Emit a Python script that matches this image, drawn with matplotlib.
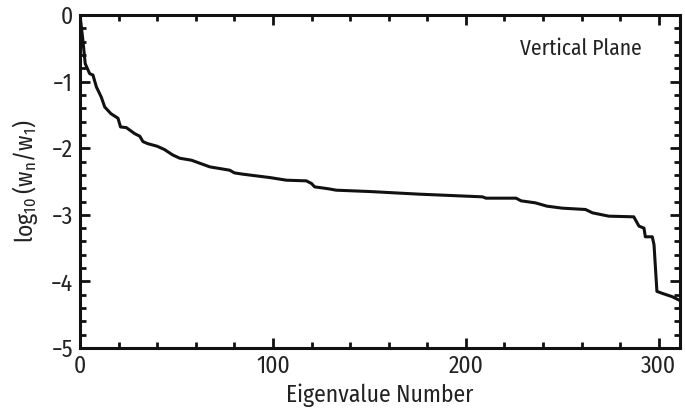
import matplotlib
matplotlib.use("Agg")
import matplotlib.pyplot as plt
from matplotlib.ticker import MultipleLocator

# Eigenvalue spectrum
eig_num = [0, 1.5, 2.7, 5, 6.7, 8.5, 11, 12.8, 16, 19.7, 21, 24, 28.3, 31, 32.6, 35,
           40, 43.8, 48, 51.7, 57.8, 67.3, 77.6, 80, 84.5, 98.3, 107, 117.3, 120,
           121.6, 129, 132.8, 150, 176, 208.6, 210.4, 226, 228.6, 236, 242, 250,
           262, 265.6, 274, 287, 289.7, 292.3, 293, 296.6, 297.5, 299, 301.8, 307,
           310.4]
log_ratio = [0, -0.38, -0.73, -0.88, -0.9, -1.08, -1.23, -1.38, -1.48, -1.55, -1.68,
             -1.69, -1.78, -1.82, -1.9, -1.93, -1.97, -2.02, -2.1, -2.15, -2.18, -2.28,
             -2.33, -2.37, -2.39, -2.44, -2.48, -2.49, -2.53, -2.58, -2.61, -2.63,
             -2.65, -2.69, -2.73, -2.75, -2.75, -2.79, -2.82, -2.87, -2.9, -2.92,
             -2.97, -3.02, -3.03, -3.17, -3.2, -3.33, -3.33, -3.45, -4.15, -4.18,
             -4.23, -4.28]
y_ticks = [0, -1, -2, -3, -4, -5]
y_ticklabels = ["0", "\u22121", "\u22122", "\u22123", "\u22124", "\u22125"]

plt.rcParams["font.family"] = ["Fira Sans Condensed", "DejaVu Sans"]

fig = plt.figure(figsize=(6.85, 4.19), dpi=100)
ax = fig.add_axes([0.1168, 0.1695, 0.876, 0.7945])

ax.plot(eig_num, log_ratio, color="#111111", lw=2.2)

ax.set_xlim(0, 311)
ax.set_ylim(-5, 0)
ax.xaxis.set_major_locator(MultipleLocator(100))
ax.xaxis.set_minor_locator(MultipleLocator(20))
ax.set_yticks(y_ticks)
ax.set_yticklabels(y_ticklabels)
ax.yaxis.set_minor_locator(MultipleLocator(0.2))

ax.tick_params(which="both", direction="in", top=True, right=True,
               labelsize=17, color="#111111", labelcolor="#222222")
ax.tick_params(which="major", length=7, width=2, pad=5)
ax.tick_params(which="minor", length=4, width=2)
for s in ax.spines.values():
    s.set_linewidth(2.2)
    s.set_color("#111111")

ax.set_xlabel("Eigenvalue Number", fontsize=17, labelpad=4, color="#222222")
ax.set_ylabel(r"$\mathregular{log_{10}\,(w_n/w_1)}$", fontsize=17, labelpad=8,
              color="#222222")
ax.text(0.835, 0.9, "Vertical Plane", transform=ax.transAxes, fontsize=15.5,
        ha="center", va="center", color="#222222")

fig.savefig("out.png", dpi=100)
